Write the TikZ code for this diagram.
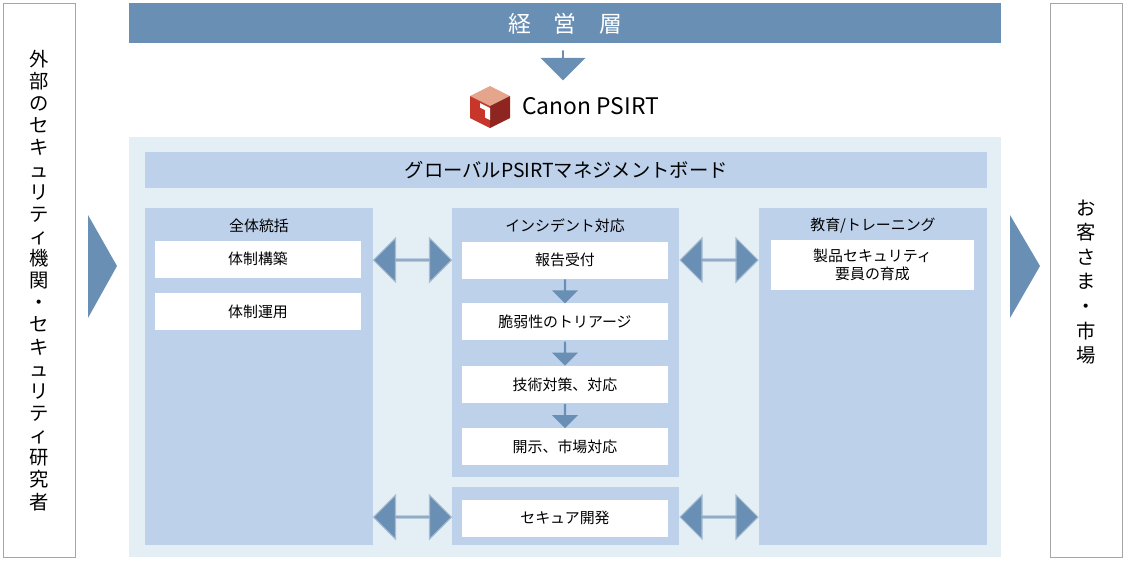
\documentclass[tikz,border=0pt]{standalone}
\usepackage{fontspec}
\setmainfont{Noto Sans CJK JP}
\usepackage{tikz}
\usetikzlibrary{shapes.arrows,positioning,calc}

\definecolor{barblue}{HTML}{6A8FB4}
\definecolor{bgblue}{HTML}{E4EEF5}
\definecolor{colblue}{HTML}{BDD1EB}
\definecolor{logored}{HTML}{C8352B}
\definecolor{logodark}{HTML}{8E2520}
\definecolor{logopink}{HTML}{E4A58C}

\newlength\pxu
\setlength\pxu{0.02cm}
\tikzset{
  col/.style={fill=colblue, draw=none, anchor=north west, inner sep=0pt},
  item/.style={fill=white, draw=none, minimum width=206\pxu, minimum height=37\pxu,
    font=\fontsize{8.5pt}{10pt}\selectfont, align=center, inner sep=0pt},
  coltitle/.style={font=\fontsize{8.5pt}{10pt}\selectfont},
  side/.style={draw=gray!70, fill=white, minimum width=72\pxu, minimum height=554\pxu,
    inner sep=0pt, align=center, font=\fontsize{11pt}{12.6pt}\selectfont},
  fat/.style={double arrow, fill=barblue, draw=barblue!60, minimum height=78\pxu,
    minimum width=44\pxu, double arrow head extend=11\pxu, inner sep=0pt, line width=0.6pt},
  down/.style={single arrow, shape border rotate=270, fill=barblue, draw=none,
    minimum width=26\pxu, minimum height=24\pxu, single arrow head extend=4\pxu, inner sep=0pt},
}

\begin{document}
\begin{tikzpicture}[x=0.02cm,y=-0.02cm]
\useasboundingbox (0,0) rectangle (1126,562);

% side boxes
\node[side, anchor=north west] (ext) at (3,3)
  {外\\部\\の\\セ\\キ\\ュ\\リ\\テ\\ィ\\機\\関\\・\\セ\\キ\\ュ\\リ\\テ\\ィ\\研\\究\\者};
\node[side, anchor=north west] (cust) at (1050,3) {};
\node[align=center, font=\fontsize{11pt}{14pt}\selectfont] (custtext) at (1086,282)
  {お\\客\\さ\\ま\\・\\市\\場};
\fill[barblue] (88,215) -- (117,266) -- (88,318) -- cycle;
\fill[barblue] (1010,215) -- (1040,266) -- (1010,318) -- cycle;

% top
\node[fill=barblue, text=white, minimum width=872\pxu, minimum height=40\pxu, anchor=north west,
  inner sep=0pt, font=\fontsize{13pt}{14pt}\selectfont] (mgmt) at (129,3) {経\quad 営\quad 層};
\node[single arrow, shape border rotate=270, fill=barblue, minimum width=45\pxu,
  minimum height=30\pxu, single arrow head extend=9\pxu, inner sep=0pt] (toparr) at (563,65) {};

% logo
\fill[logopink] (470,96) -- (490,86) -- (510,96) -- (490,106) -- cycle;
\fill[logored] (470,96) -- (490,106) -- (490,128) -- (470,118) -- cycle;
\fill[logodark] (490,106) -- (510,96) -- (510,118) -- (490,128) -- cycle;
\fill[white] (480,103) -- (490,108) -- (490,120) -- (485,117.5) -- (485,110) -- (480,107.5) -- cycle;
\node[anchor=west, font=\fontsize{13pt}{14pt}\selectfont] (psirt) at (516,106) {Canon PSIRT};

% background
\fill[bgblue] (129,137) rectangle (1001,557);
\node[fill=colblue, minimum width=842\pxu, minimum height=36\pxu, anchor=north west, inner sep=0pt,
  font=\fontsize{11pt}{12pt}\selectfont] (board) at (145,152) {グローバルPSIRTマネジメントボード};

% columns
\node[col, minimum width=228\pxu, minimum height=337\pxu] (left) at (145,208) {};
\node[col, minimum width=227\pxu, minimum height=269\pxu] (mid) at (452,208) {};
\node[col, minimum width=227\pxu, minimum height=58\pxu] (low) at (452,487) {};
\node[col, minimum width=228\pxu, minimum height=337\pxu] (right) at (759,208) {};

\node[coltitle] at (259,226) {全体統括};
\node[coltitle] at (565,226) {インシデント対応};
\node[coltitle] at (873,226) {教育/トレーニング};

\node[item] (kochiku) at (258,259) {体制構築};
\node[item] (unyo) at (258,311.5) {体制運用};

\node[item] (uketsuke) at (565,260) {報告受付};
\node[item] (triage) at (565,321.5) {脆弱性のトリアージ};
\node[item] (taisaku) at (565,384.5) {技術対策、対応};
\node[item] (kaiji) at (565,446.5) {開示、市場対応};
\node[item] (secure) at (565,518) {セキュア開発};

\node[item, minimum width=203\pxu, minimum height=50\pxu] (ikusei) at (872.5,265)
  {製品セキュリティ\\要員の育成};

\foreach \a/\b in {uketsuke/triage, triage/taisaku, taisaku/kaiji}
  \node[down] at ($(\a.south)!0.5!(\b.north)$) {};

% double arrows
\node[fat] (da1) at (412.5,260) {};
\node[fat] (da2) at (412.5,517) {};
\node[fat] (da3) at (719,260) {};
\node[fat] (da4) at (719,517) {};
\end{tikzpicture}
\end{document}
